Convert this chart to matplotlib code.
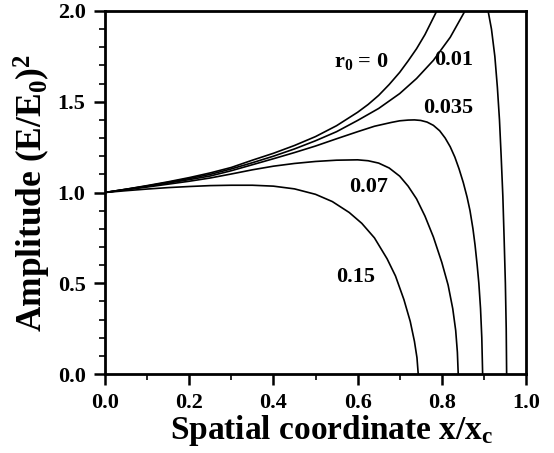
import numpy as np
import matplotlib
matplotlib.use("Agg")
import matplotlib.pyplot as plt
from matplotlib.ticker import MultipleLocator

plt.rcParams['font.family'] = ['Liberation Serif', 'DejaVu Serif']
plt.rcParams['font.weight'] = 'bold'
plt.rcParams['mathtext.fontset'] = 'custom'
plt.rcParams['mathtext.rm'] = 'Liberation Serif:bold'
plt.rcParams['mathtext.it'] = 'Liberation Serif:bold'
plt.rcParams['mathtext.bf'] = 'Liberation Serif:bold'

nan = np.nan

# r0 = 0
x_r0_0 = [0, 0.05, 0.1, 0.15, 0.2, 0.25, 0.3, 0.35, 0.4, 0.45, 0.5, 0.55, 0.6, 0.625, 0.65, 0.675, 0.7,
          0.72, 0.74, 0.76, 0.788]
y_r0_0 = [1.0, 1.018, 1.038, 1.059, 1.082, 1.108, 1.138, 1.178, 1.216, 1.259, 1.308, 1.368, 1.442, 1.485,
          1.535, 1.595, 1.662, 1.725, 1.792, 1.87, 2.0]

# r0 = 0.01 (leaves the frame at the top, re-enters and falls)
x_r0_001 = [0, 0.05, 0.1, 0.15, 0.2, 0.25, 0.3, 0.35, 0.4, 0.45, 0.5, 0.55, 0.6, 0.65, 0.7, 0.74, 0.78,
            0.82, 0.855,
            nan, 0.91, 0.918, 0.926, 0.932, 0.937, 0.941, 0.945, 0.948, 0.951, 0.953, 0.954]
y_r0_001 = [1.0, 1.018, 1.036, 1.056, 1.077, 1.1, 1.13, 1.164, 1.2, 1.24, 1.285, 1.335, 1.397, 1.463, 1.545,
            1.628, 1.728, 1.855, 2.0,
            nan, 2.0, 1.9, 1.75, 1.58, 1.4, 1.2, 0.98, 0.75, 0.5, 0.25, 0.0]

# r0 = 0.035
x_r0_0035 = [0, 0.05, 0.1, 0.15, 0.2, 0.25, 0.3, 0.35, 0.4, 0.45, 0.5, 0.55, 0.6, 0.64, 0.68, 0.7, 0.72,
             0.735, 0.75, 0.765, 0.78, 0.795, 0.808, 0.82, 0.831, 0.841, 0.851, 0.86, 0.867, 0.874, 0.879,
             0.884, 0.888, 0.892, 0.895, 0.897]
y_r0_0035 = [1.0, 1.017, 1.034, 1.052, 1.071, 1.091, 1.12, 1.153, 1.186, 1.22, 1.256, 1.296, 1.335, 1.365,
             1.386, 1.395, 1.399, 1.4, 1.397, 1.388, 1.37, 1.34, 1.30, 1.252, 1.195, 1.13, 1.055, 0.975,
             0.9, 0.8, 0.71, 0.6, 0.5, 0.36, 0.2, 0.0]

# r0 = 0.07
x_r0_007 = [0, 0.05, 0.1, 0.15, 0.2, 0.25, 0.3, 0.35, 0.4, 0.45, 0.5, 0.55, 0.6, 0.625, 0.65, 0.675, 0.7,
            0.72, 0.74, 0.76, 0.78, 0.8, 0.815, 0.826, 0.833, 0.837, 0.839]
y_r0_007 = [1.0, 1.015, 1.03, 1.046, 1.062, 1.08, 1.102, 1.125, 1.145, 1.16, 1.171, 1.178, 1.18, 1.175,
            1.162, 1.135, 1.09, 1.035, 0.965, 0.87, 0.755, 0.615, 0.49, 0.36, 0.24, 0.12, 0.0]

# r0 = 0.15
x_r0_015 = [0, 0.05, 0.1, 0.15, 0.2, 0.25, 0.3, 0.35, 0.4, 0.45, 0.5, 0.54, 0.58, 0.61, 0.64, 0.67, 0.69,
            0.71, 0.725, 0.735, 0.741, 0.744]
y_r0_015 = [1.0, 1.01, 1.019, 1.027, 1.033, 1.038, 1.04, 1.04, 1.035, 1.02, 0.99, 0.95, 0.89, 0.83, 0.75,
            0.635, 0.54, 0.41, 0.29, 0.18, 0.09, 0.0]

series = [(x_r0_0, y_r0_0), (x_r0_001, y_r0_001), (x_r0_0035, y_r0_0035), (x_r0_007, y_r0_007), (x_r0_015, y_r0_015)]

curve_labels = [r'r$_0$ = 0', '0.01', '0.035', '0.07', '0.15']
label_x = [0.608, 0.829, 0.814, 0.627, 0.596]
label_y = [1.72, 1.73, 1.466, 1.03, 0.536]

x_ticks = [0.0, 0.2, 0.4, 0.6, 0.8, 1.0]
y_ticks = [0.0, 0.5, 1.0, 1.5, 2.0]

fig = plt.figure(figsize=(5.54, 4.53), dpi=100)
ax = fig.add_axes([105 / 554, 1 - 374 / 453, 421 / 554, 363 / 453])

for xs, ys in series:
    ax.plot(xs, ys, color='black', lw=1.2, solid_joinstyle='round')

for t, lx, ly in zip(curve_labels, label_x, label_y):
    ax.text(lx, ly, t, ha='center', va='center', fontsize=16, fontweight='bold')

ax.set_xlim(0, 1.0)
ax.set_ylim(0, 2.0)
ax.set_xticks(x_ticks)
ax.set_yticks(y_ticks)
ax.set_xticklabels([f'{v:.1f}' for v in x_ticks])
ax.set_yticklabels([f'{v:.1f}' for v in y_ticks])
ax.xaxis.set_minor_locator(MultipleLocator(0.1))
ax.yaxis.set_minor_locator(MultipleLocator(0.1))
ax.tick_params(which='major', direction='out', length=8, width=1.8, labelsize=16, pad=6)
ax.tick_params(which='minor', direction='out', length=4, width=1.2)
ax.tick_params(top=False, right=False, which='both')
for s in ax.spines.values():
    s.set_linewidth(2.0)

ax.set_xlabel(r'Spatial coordinate x/x$_\mathrm{c}$', fontsize=24, fontweight='bold')
ax.xaxis.set_label_coords(0.539, -0.108)
ax.set_ylabel(r'Amplitude (E/E$_0$)$^2$', fontsize=25.5, fontweight='bold')
ax.yaxis.set_label_coords(-0.124, 0.497)

fig.savefig('out.png', dpi=100)
